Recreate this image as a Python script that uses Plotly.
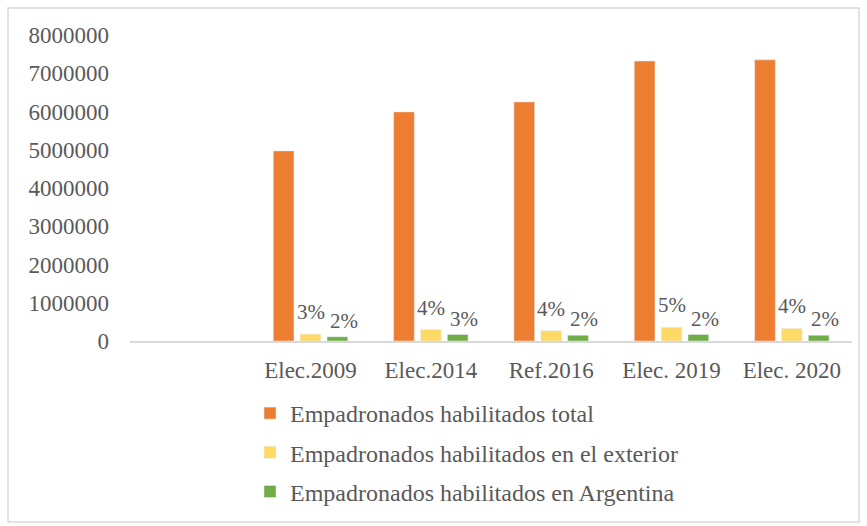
import plotly.graph_objects as go

# datos
elecciones = [" ", "Elec.2009", "Elec.2014", "Ref.2016", "Elec. 2019", "Elec. 2020"]
total = [None, 4970000, 5990000, 6250000, 7320000, 7350000]
exterior = [None, 180000, 300000, 270000, 360000, 330000]
argentina = [None, 110000, 170000, 150000, 170000, 150000]
pct_exterior = ["", "3%", "4%", "4%", "5%", "4%"]
pct_argentina = ["", "2%", "3%", "2%", "2%", "2%"]

gris = "#595959"
fuente = "Liberation Serif, Times New Roman, serif"

W, H = 867, 526
ML, MR, MT, MB = 130, 15, 35, 185
pw = W - ML - MR
ph = H - MT - MB

fig = go.Figure()

fig.add_trace(go.Bar(
    x=elecciones, y=total,
    name="Empadronados habilitados total",
    marker=dict(color="#ED7D31"),
    legendgroup="a"
))
fig.add_trace(go.Bar(
    x=elecciones, y=exterior,
    name="Empadronados habilitados en el exterior",
    marker=dict(color="#FFD966"),
    legendgroup="b"
))
fig.add_trace(go.Bar(
    x=elecciones, y=argentina,
    name="Empadronados habilitados en Argentina",
    marker=dict(color="#70AD47"),
    legendgroup="c"
))

# etiquetas de porcentaje
for cat, v, t in zip(elecciones, exterior, pct_exterior):
    if t:
        fig.add_annotation(x=cat, y=v, text=t, showarrow=False,
                           yanchor="bottom", xshift=0, yshift=8,
                           font=dict(size=21, color=gris, family=fuente))
for cat, v, t in zip(elecciones, argentina, pct_argentina):
    if t:
        fig.add_annotation(x=cat, y=v, text=t, showarrow=False,
                           yanchor="bottom", xshift=33, yshift=2,
                           font=dict(size=21, color=gris, family=fuente))

# marco del grafico
fig.add_shape(
    type="rect", xref="paper", yref="paper",
    x0=(8 - ML) / pw, x1=(W - 8 - ML) / pw,
    y0=(MT + ph - (H - 4)) / ph, y1=(MT + ph - 8) / ph,
    line=dict(color="#D9D9D9", width=1.5), layer="below"
)

fig.update_layout(
    width=W, height=H,
    margin=dict(l=ML, r=MR, t=MT, b=MB),
    barmode="group",
    bargap=0.33,
    bargroupgap=0.23,
    plot_bgcolor="white",
    paper_bgcolor="white",
    font=dict(family=fuente, color=gris, size=23),
    showlegend=True,
    legend=dict(
        orientation="v",
        x=(250 - ML) / pw, xanchor="left",
        y=(MT + ph - 391) / ph, yanchor="top",
        font=dict(size=24, color=gris, family=fuente),
        bgcolor="rgba(0,0,0,0)",
        tracegroupgap=5,
        itemwidth=30,
    ),
    xaxis=dict(
        type="category",
        automargin=False,
        showline=True, linecolor="#D9D9D9", linewidth=1.5,
        showgrid=False, ticks="",
        tickfont=dict(size=23, color=gris),
        ticklabelstandoff=8,
    ),
    yaxis=dict(
        range=[0, 8000000],
        automargin=False,
        dtick=1000000,
        showgrid=False, zeroline=False, showline=False,
        tickformat="d",
        tickfont=dict(size=23, color=gris),
        ticklabelstandoff=20,
    ),
)

fig.write_html("out.html", config={"displayModeBar": False},
               post_script="document.body.style.margin='0';")
